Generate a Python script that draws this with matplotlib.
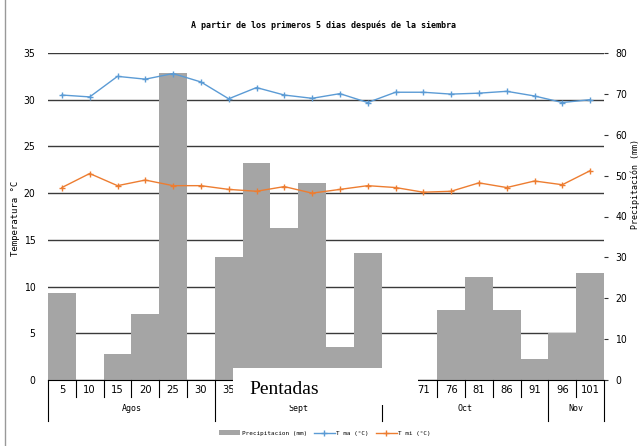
import matplotlib
matplotlib.use("Agg")
import matplotlib.pyplot as plt
from matplotlib.patches import Rectangle
from matplotlib.lines import Line2D

# datos
pentadas = ['5', '10', '15', '20', '25', '30', '35', '40', '45', '50',
            '55', '61', '66', '71', '76', '81', '86', '91', '96', '101']
meses = ['Agos', 'Sept', 'Oct', 'Nov']
pentadas_por_mes = [6, 6, 6, 2]
precip = [21.3, 0, 6.4, 16.1, 75.0, 0, 30.1, 53.0, 37.2, 48.2,
          8.1, 31.0, 0, 0, 17.1, 25.2, 17.1, 5.1, 11.5, 26.2]
tmax = [30.5, 30.3, 32.5, 32.2, 32.8, 31.9, 30.1, 31.3, 30.5, 30.15,
        30.65, 29.7, 30.8, 30.8, 30.6, 30.7, 30.9, 30.4, 29.7, 30.0]
tmin = [20.6, 22.1, 20.8, 21.4, 20.8, 20.8, 20.4, 20.2, 20.7, 20.0,
        20.4, 20.8, 20.6, 20.1, 20.2, 21.1, 20.6, 21.3, 20.9, 22.4]

# etiquetas tapadas por el recuadro "Pentadas"
ocultas = [7, 8, 9, 10, 11, 12]

mono = ['DejaVu Sans Mono']

W, H = 644, 446
fig = plt.figure(figsize=(W / 100, H / 100), dpi=100)
pos = [48 / W, 1 - 380 / H, 556 / W, 327 / H]
x = list(range(len(pentadas)))

# eje de temperatura (rejilla + etiquetas)
ax = fig.add_axes(pos)
ax.set_xlim(-0.5, len(pentadas) - 0.5)
ax.set_ylim(0, 35)
ax.set_yticks(range(0, 36, 5))
ax.grid(axis='y', color='#3a3a3a', lw=1.0)
ax.set_axisbelow(True)
ax.set_xticks([])
ax.tick_params(axis='y', length=0, pad=9)
for t in ax.get_yticklabels():
    t.set_fontstretch('condensed')
    t.set_fontsize(7.5)
for s in ax.spines.values():
    s.set_visible(False)
ax.set_ylabel('Temperatura °C', fontfamily=mono, fontsize=6.5)
ax.yaxis.set_label_coords(-0.05, 0.495)

# precipitacion
ax2 = ax.twinx()
ax2.bar(x, precip, width=1.0, color='#a5a5a5', label='Precipitacion (mm)')
ax2.set_ylim(0, 80)
ax2.set_yticks(range(0, 81, 10))
ax2.tick_params(axis='y', length=3, pad=5, color='#333333')
for t in ax2.get_yticklabels():
    t.set_fontstretch('condensed')
    t.set_fontsize(7.5)
for s in ax2.spines.values():
    s.set_visible(False)
ax2.set_ylabel('Precipitación (mm)', fontfamily=mono, fontsize=6)
ax2.yaxis.set_label_coords(1.047, 0.60)

# lineas de temperatura
ax3 = ax.twinx()
ax3.set_ylim(0, 35)
ax3.set_yticks([])
for k in ['top', 'left', 'right']:
    ax3.spines[k].set_visible(False)
ax3.spines['bottom'].set_color('black')
ax3.plot(x, tmax, color='#5b9bd5', lw=1, marker='+', ms=4, mew=1, label='T ma (°C)')
ax3.plot(x, tmin, color='#ed7d31', lw=1, marker='+', ms=4, mew=1, label='T mi (°C)')

# eje x de dos niveles
tr = ax3.get_xaxis_transform()
bordes = [-0.5]
for n in pentadas_por_mes:
    bordes.append(bordes[-1] + n)
for i, lab in enumerate(pentadas):
    if i in ocultas:
        continue
    ax3.text(i, -0.031, lab, transform=tr, ha='center', va='center',
             fontstretch='condensed', fontsize=8)
for i in range(len(pentadas) + 1):
    xb = i - 0.5
    largo = 0.125 if xb in bordes else 0.052
    ax3.add_line(Line2D([xb, xb], [0, -largo], transform=tr, color='black',
                        lw=0.8, clip_on=False))
for m, a, b in zip(meses, bordes[:-1], bordes[1:]):
    ax3.text((a + b) / 2, -0.088, m, transform=tr, ha='center', va='center',
             fontfamily=mono, fontsize=6)

fig.text(324 / W, 1 - 25 / H, 'A partir de los primeros 5 dias después de la siembra',
         ha='center', va='center', fontfamily=mono, fontsize=6, fontweight='bold')

h1, l1 = ax2.get_legend_handles_labels()
h2, l2 = ax3.get_legend_handles_labels()
fig.legend(h1 + h2, l1 + l2, loc='center', bbox_to_anchor=(325 / W, 1 - 433 / H),
           ncol=3, frameon=False, prop={'family': mono, 'size': 4.3},
           handlelength=3.5, handletextpad=0.2, columnspacing=1.2)

# recuadro "Pentadas" que tapa parte del eje
fig.add_artist(Rectangle((233 / W, 1 - 405 / H), (418 - 233) / W, (405 - 368) / H,
                         transform=fig.transFigure, facecolor='white',
                         edgecolor='none', zorder=10))
fig.text(284 / W, 1 - 389 / H, 'Pentadas', ha='center', va='center',
         fontfamily='Liberation Serif', fontsize=14, zorder=11)

fig.add_artist(Line2D([5 / W, 5 / W], [0, 1], transform=fig.transFigure,
                      color='#999999', lw=1))

fig.savefig('out.png', dpi=100)
